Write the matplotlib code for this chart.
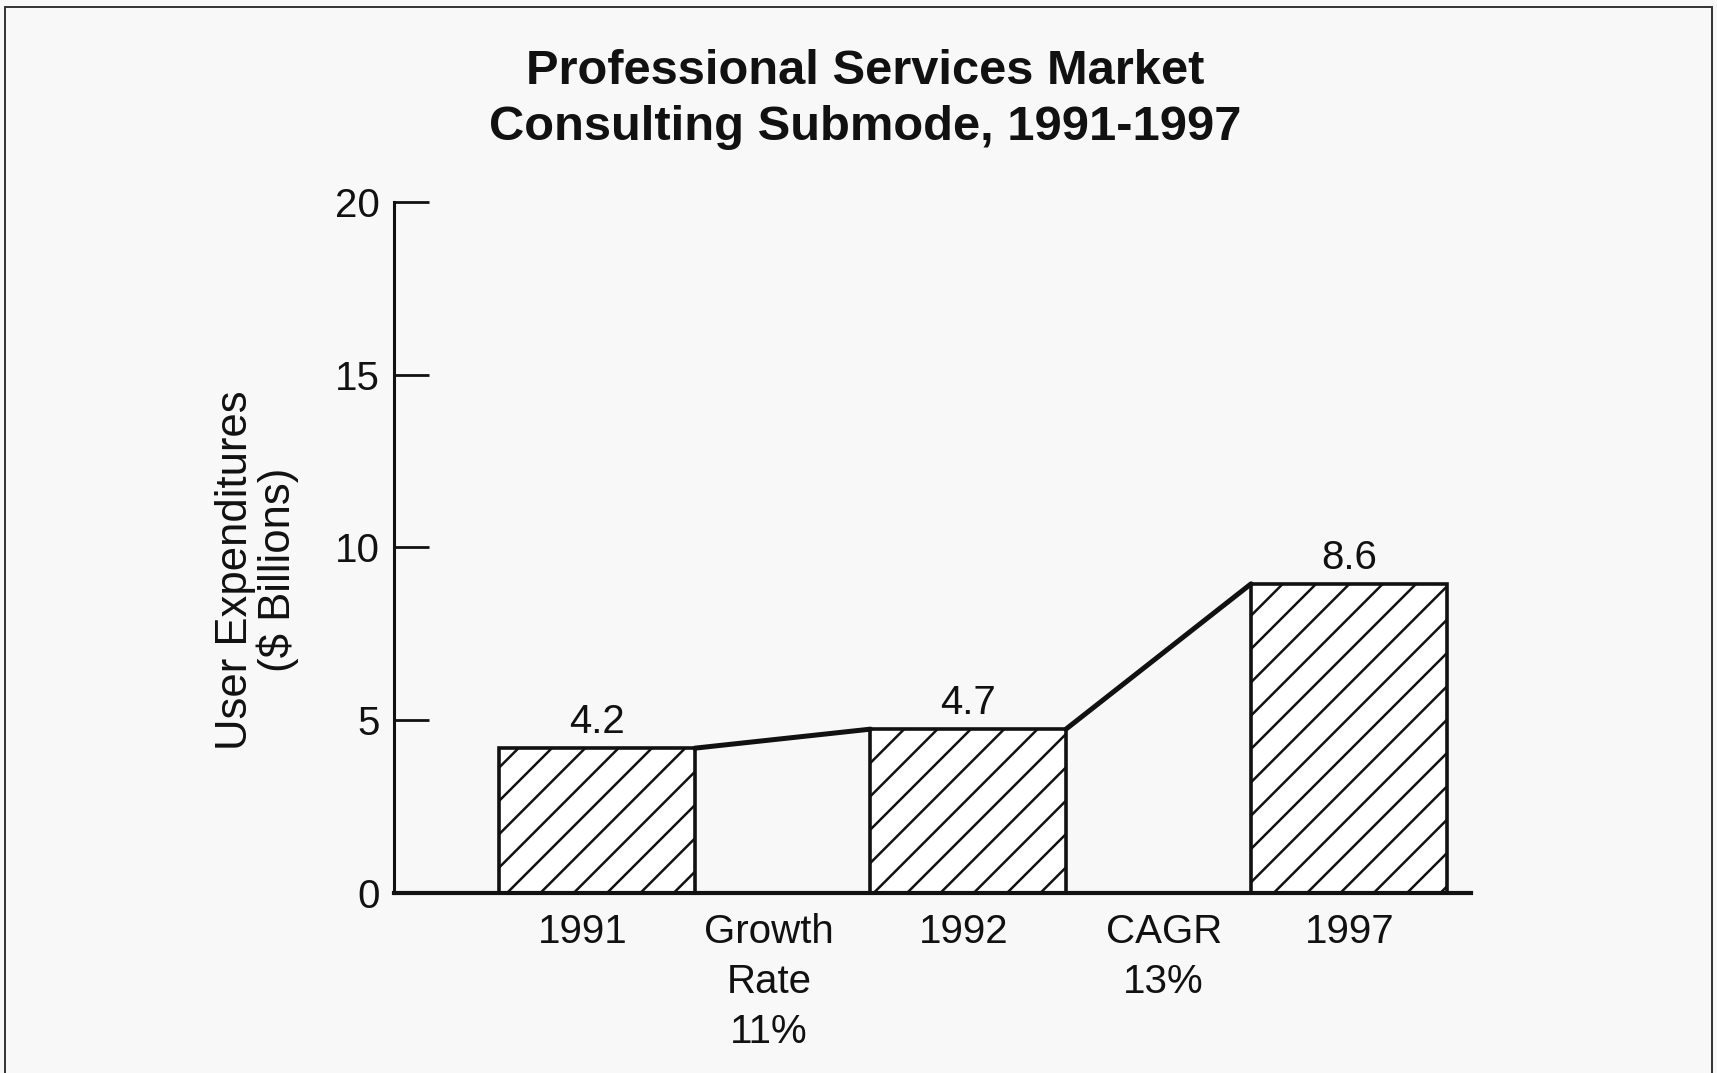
import numpy as np
import matplotlib
matplotlib.use('Agg')
import matplotlib.pyplot as plt
from matplotlib.patches import Rectangle

# values
years = ['1991', '1992', '1997']
heights = [4.2, 4.75, 8.95]          # drawn bar heights
value_labels = ['4.2', '4.7', '8.6']  # printed values
slot_labels = ['1991', 'Growth\nRate\n11%', '1992', 'CAGR\n13%', '1997']
yticks = [0, 5, 10, 15, 20]

plt.rcParams['font.family'] = ['Liberation Sans', 'DejaVu Sans']
plt.rcParams['hatch.linewidth'] = 0.9

fig = plt.figure(figsize=(8.585, 5.365), dpi=200, facecolor='#f8f8f8')
ax = fig.add_axes([0.2295, 0.1673, 0.6272, 0.6449])
ax.set_facecolor('none')

pos = np.array([0, 1.975, 4])
w = 1.04
ax.bar(pos, heights, width=w, color='white', edgecolor='#111111',
       linewidth=1.3, hatch='//', zorder=2)

# connecting lines between bar tops
for i in range(len(pos) - 1):
    ax.plot([pos[i] + w / 2, pos[i + 1] - w / 2], [heights[i], heights[i + 1]],
            color='#111111', lw=1.8, solid_capstyle='round', zorder=3)

for p, h, t in zip(pos, heights, value_labels):
    ax.text(p, h + 0.2, t, ha='center', va='bottom', fontsize=14.5, color='#111111')

ax.set_xlim(-1.08, 4.65)
ax.set_ylim(0, 20)
ax.set_yticks(yticks)
ax.set_xticks([-0.076, 0.915, 1.953, 3.015, 4.006])
ax.set_xticklabels(slot_labels, fontsize=14.5, linespacing=1.4, color='#111111')
ax.tick_params(axis='x', length=0, pad=7)
ax.tick_params(axis='y', direction='in', length=12.5, width=1.0, pad=5,
               labelsize=14.5, colors='#111111')
for s in ['top', 'right']:
    ax.spines[s].set_visible(False)
ax.spines['left'].set_linewidth(1.1)
ax.spines['bottom'].set_linewidth(1.5)
ax.spines['left'].set_color('#111111')
ax.spines['bottom'].set_color('#111111')

fig.text(0.1495, 0.469, 'User Expenditures\n($ Billions)', rotation=90,
         ha='center', va='center', fontsize=15.7, color='#111111', linespacing=1.02)

fig.text(0.504, 0.933, 'Professional Services Market', ha='center', va='center',
         fontsize=17.6, fontweight='bold', color='#111111')
fig.text(0.504, 0.881, 'Consulting Submode, 1991-1997', ha='center', va='center',
         fontsize=17.6, fontweight='bold', color='#111111')

fig.patches.append(Rectangle((0.003, -0.05), 0.994, 1.0435, transform=fig.transFigure,
                             fill=False, edgecolor='#333333', linewidth=0.7))

fig.savefig('out.png', dpi=200, facecolor=fig.get_facecolor())
